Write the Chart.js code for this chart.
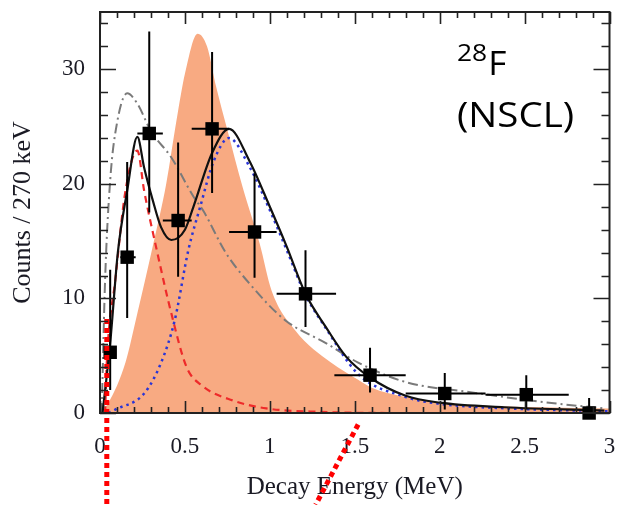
<!DOCTYPE html>
<html>
<head>
<meta charset="utf-8">
<script src="https://cdn.jsdelivr.net/npm/chart.js@4"></script>
<style>
  body { margin: 0; background: #fff; }
  #wrap { width: 619px; height: 505px; position: relative; }
</style>
</head>
<body>
<div id="wrap"><canvas id="chart"></canvas></div>
<script>
// Axis ticks
const xTicks = [0, 0.5, 1, 1.5, 2, 2.5, 3];
const yTicks = [0, 10, 20, 30];

// Measured counts (squares) with error bars
const pointX = [0.06, 0.16, 0.29, 0.46, 0.66, 0.91, 1.21, 1.59, 2.03, 2.51, 2.88];
const pointY = [5.3, 13.6, 24.4, 16.8, 24.8, 15.8, 10.4, 3.3, 1.7, 1.6, 0];
const xErrLo = [0.03, 0.12, 0.22, 0.37, 0.54, 0.76, 1.04, 1.38, 1.8, 2.27, 2.88];
const xErrHi = [0.09, 0.21, 0.37, 0.54, 0.76, 1.04, 1.39, 1.8, 2.27, 2.76, 2.88];
const yErrLo = [2.0, 8.3, 17.5, 11.9, 19.2, 11.8, 7.5, 1.8, 0.3, 0.3, 0];
const yErrHi = [12.5, 21.9, 33.3, 23.6, 31.5, 20.9, 14.2, 5.7, 3.5, 3.3, 1.3];

// Orange filled simulation
const orangeX = [0, 0.05, 0.15, 0.22, 0.31, 0.39, 0.45, 0.5, 0.575, 0.63, 0.685, 0.75, 0.84, 0.94, 1.01, 1.15, 1.36, 1.52, 1.6, 1.8, 2.19, 2.6, 3];
const orangeY = [0, 0.9, 4.4, 8.7, 14.5, 20, 25.5, 29.6, 33.1, 32, 28.4, 24.7, 19.7, 14.8, 10.7, 7.2, 4.4, 2.9, 2.2, 1.4, 0.7, 0.5, 0.4];

// Total fit (black solid)
const totalX = [0.015, 0.06, 0.105, 0.16, 0.22, 0.26, 0.31, 0.36, 0.42, 0.5, 0.55, 0.66, 0.76, 0.88, 1.0, 1.1, 1.21, 1.33, 1.45, 1.59, 1.8, 2.0, 2.38, 2.97];
const totalY = [0, 6.1, 14, 19.4, 24.1, 21.4, 18.6, 16.2, 15.1, 16, 18, 22.7, 24.8, 22, 18, 14.5, 10.4, 7.5, 4.9, 3.1, 1.5, 0.9, 0.5, 0.2];

// Low-energy resonance (red dashed)
const redX = [0.03, 0.04, 0.09, 0.15, 0.22, 0.26, 0.33, 0.42, 0.51, 0.6, 0.78, 0.98, 1.3, 1.8, 3];
const redY = [0, 4.4, 11.6, 19.4, 22.9, 19.4, 14.5, 8.7, 4.0, 2.4, 1.1, 0.4, 0.1, 0, 0];

// Higher resonance (blue dotted)
const blueX = [0.05, 0.09, 0.26, 0.36, 0.44, 0.52, 0.59, 0.67, 0.76, 0.88, 1.0, 1.1, 1.21, 1.33, 1.52, 1.8, 2.0, 2.4, 3];
const blueY = [0, 0.3, 1.7, 4.4, 8.1, 14.2, 18, 22, 24.0, 21.5, 17.7, 14.2, 10.3, 7.4, 3.4, 1.4, 0.8, 0.4, 0.15];

// Alternative fit (gray dash-dot)
const grayX = [0.01, 0.03, 0.06, 0.1, 0.16, 0.22, 0.3, 0.42, 0.55, 0.61, 0.74, 0.88, 1.09, 1.33, 1.52, 1.8, 2.19, 2.58, 2.97];
const grayY = [0, 11.6, 20.3, 25.3, 27.9, 27.0, 24.6, 22.3, 18.9, 17.6, 14, 11.3, 8.1, 6.1, 4.4, 2.7, 1.8, 1.0, 0.4];

// Red dotted markers drawn over the figure
const markAX = [0.04, 0.04];
const markAY = [8.2, -8];
const markBX = [1.52, 1.27];
const markBY = [-1.0, -8];

const pts = (xs, ys) => xs.map((x, i) => ({ x: x, y: ys[i] }));

const frameAndTicks = {
  id: 'frameAndTicks',
  afterDraw(chart) {
    const { ctx, chartArea: a, scales: { x, y } } = chart;
    ctx.save();
    ctx.strokeStyle = '#222';
    ctx.lineWidth = 1.6;
    ctx.beginPath();
    for (let i = 0; i <= 30; i++) {
      const v = i / 10;
      const px = Math.round(x.getPixelForValue(v)) + 0.5;
      const len = i % 5 === 0 ? 12 : 6;
      ctx.moveTo(px, a.bottom); ctx.lineTo(px, a.bottom - len);
      ctx.moveTo(px, a.top); ctx.lineTo(px, a.top + len);
    }
    for (let v = 0; v <= 35; v += 2) {
      const py = Math.round(y.getPixelForValue(v)) + 0.5;
      const len = v % 10 === 0 ? 16 : 8;
      ctx.moveTo(a.left, py); ctx.lineTo(a.left + len, py);
      ctx.moveTo(a.right, py); ctx.lineTo(a.right - len, py);
    }
    ctx.stroke();
    ctx.lineWidth = 2;
    ctx.strokeRect(a.left, a.top, a.right - a.left, a.bottom - a.top);
    ctx.restore();
  }
};

const errorBars = {
  id: 'errorBars',
  afterDatasetDraw(chart, args) {
    if (args.meta.label !== 'data') return;
    const { ctx, scales: { x, y } } = chart;
    ctx.save();
    ctx.strokeStyle = '#000';
    ctx.lineWidth = 2;
    ctx.beginPath();
    pointX.forEach((v, i) => {
      const px = x.getPixelForValue(v), py = y.getPixelForValue(pointY[i]);
      ctx.moveTo(x.getPixelForValue(xErrLo[i]), py);
      ctx.lineTo(x.getPixelForValue(xErrHi[i]), py);
      ctx.moveTo(px, y.getPixelForValue(yErrLo[i]));
      ctx.lineTo(px, y.getPixelForValue(yErrHi[i]));
    });
    ctx.stroke();
    ctx.restore();
  }
};

const nucleusLabel = {
  id: 'nucleusLabel',
  afterDraw(chart) {
    const ctx = chart.ctx;
    ctx.save();
    ctx.fillStyle = '#000';
    ctx.textBaseline = 'alphabetic';
    ctx.translate(457, 0);
    ctx.scale(1.1, 1);
    ctx.font = '24px "Open Sans"';
    ctx.fillText('28', 0, 61);
    const w = ctx.measureText('28').width;
    ctx.font = '32px "Open Sans"';
    ctx.fillText('F', w + 1, 75);
    ctx.font = '35px "Open Sans"';
    ctx.fillText('(NSCL)', 0, 127);
    ctx.restore();
  }
};

// keep the layout from reserving room for overhanging tick labels
const noOverhang = s => { s.paddingTop = 0; s.paddingBottom = 0; s.paddingLeft = 0; s.paddingRight = 0; };

const line = (label, xs, ys, color, dash, width, order) => ({
  label: label,
  data: pts(xs, ys),
  borderColor: color,
  borderDash: dash,
  borderWidth: width,
  pointRadius: 0,
  fill: false,
  cubicInterpolationMode: 'monotone',
  order: order
});

new Chart(document.getElementById('chart'), {
  type: 'line',
  data: {
    datasets: [
      {
        label: 'markA', data: pts(markAX, markAY), borderColor: '#ff0000',
        borderDash: [5, 4], borderWidth: 5, pointRadius: 0, clip: false, order: 0
      },
      {
        label: 'markB', data: pts(markBX, markBY), borderColor: '#ff0000',
        borderDash: [5, 4], borderWidth: 5, pointRadius: 0, clip: false, order: 0
      },
      {
        label: 'data', data: pts(pointX, pointY), showLine: false,
        pointStyle: 'rect', pointRadius: 9.5, pointBackgroundColor: '#000',
        pointBorderColor: '#000', pointBorderWidth: 0, clip: false, order: 1
      },
      line('total', totalX, totalY, '#111', [], 2.2, 2),
      line('blue', blueX, blueY, '#2a35d6', [2.5, 4], 2.5, 3),
      line('red', redX, redY, '#ee2a2a', [7, 5], 2.2, 4),
      line('gray', grayX, grayY, '#7a7a7a', [10, 4, 2, 4], 2, 5),
      {
        label: 'orange', data: pts(orangeX, orangeY), borderWidth: 0,
        backgroundColor: '#f8aa82', fill: 'origin', pointRadius: 0,
        cubicInterpolationMode: 'monotone', order: 6
      }
    ]
  },
  options: {
    responsive: true,
    maintainAspectRatio: false,
    animation: false,
    layout: { padding: { top: 12, right: 7, left: 0, bottom: 0 } },
    plugins: { legend: { display: false }, tooltip: { enabled: false } },
    scales: {
      x: {
        type: 'linear', min: 0, max: 3,
        grid: { display: false, drawTicks: false },
        border: { display: false },
        afterBuildTicks: s => { s.ticks = xTicks.map(v => ({ value: v })); },
        afterFit: s => { s.height = 92; noOverhang(s); },
        ticks: {
          font: { family: '"Liberation Serif"', size: 23 }, color: '#1a1a24', padding: 20, maxRotation: 0,
          callback: v => String(v)
        },
        title: { display: true, text: 'Decay Energy (MeV)', font: { family: '"Liberation Serif"', size: 25 }, color: '#1a1a24', padding: { top: 0, bottom: 3 } }
      },
      y: {
        min: 0, max: 35,
        grid: { display: false, drawTicks: false },
        border: { display: false },
        afterBuildTicks: s => { s.ticks = yTicks.map(v => ({ value: v })); },
        afterFit: s => { s.width = 100; noOverhang(s); },
        ticks: { font: { family: '"Liberation Serif"', size: 23 }, color: '#1a1a24', padding: 15, callback: v => String(v) },
        title: { display: true, text: 'Counts / 270 keV', font: { family: '"Liberation Serif"', size: 26 }, color: '#1a1a24', padding: { top: 8, bottom: 0 } }
      }
    }
  },
  plugins: [errorBars, frameAndTicks, nucleusLabel]
});
</script>
</body>
</html>
